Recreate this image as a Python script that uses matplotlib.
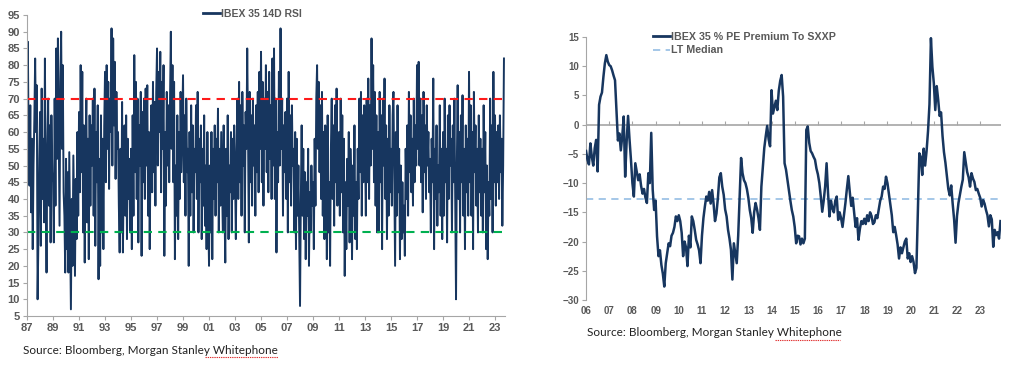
import numpy as np
import matplotlib
matplotlib.use("Agg")
import matplotlib.pyplot as plt
from matplotlib.lines import Line2D

# ---- IBEX 35 14D RSI (16 Werte pro Jahr, ab 1987) ----
rsi_start = 1987.0
rsi_per_year = 16
rsi_values = [
    62, 87, 55, 44, 68, 36, 58, 25, 50, 64, 82, 60, 74, 10, 28, 52,   # 87
    66, 26, 73, 40, 58, 33, 82, 45, 18, 55, 70, 38, 62, 27, 65, 48,   # 88
    45, 27, 70, 38, 85, 52, 88, 60, 32, 75, 90, 55, 80, 42, 35, 18,   # 89
    52, 25, 48, 18, 54, 30, 7, 40, 20, 53, 35, 17, 46, 28, 60, 35,    # 90
    66, 42, 80, 48, 78, 30, 62, 21, 55, 70, 33, 58, 22, 65, 38, 62,   # 91
    50, 70, 35, 73, 26, 60, 45, 68, 16, 52, 20, 65, 30, 58, 25, 62,   # 92
    78, 45, 80, 55, 75, 43, 70, 60, 91, 50, 88, 62, 81, 46, 72, 55,   # 93
    60, 38, 24, 55, 30, 69, 24, 48, 62, 35, 65, 28, 58, 40, 52, 30,   # 94
    55, 25, 65, 35, 83, 48, 75, 40, 70, 27, 62, 50, 72, 23, 66, 45,   # 95
    70, 40, 73, 50, 74, 35, 60, 25, 55, 68, 42, 75, 48, 69, 38, 72,   # 96
    85, 50, 78, 60, 84, 42, 75, 55, 80, 23, 60, 38, 72, 50, 68, 45,   # 97
    70, 90, 55, 80, 45, 75, 22, 50, 35, 65, 28, 60, 40, 72, 48, 62,   # 98
    77, 45, 65, 35, 70, 48, 55, 20, 60, 35, 68, 42, 62, 30, 55, 48,   # 99
    68, 40, 72, 30, 58, 45, 62, 28, 55, 38, 65, 32, 50, 25, 60, 35,   # 00
    20, 50, 30, 60, 22, 55, 40, 62, 35, 58, 45, 67, 30, 55, 38, 60,   # 01
    45, 30, 62, 38, 21, 55, 35, 65, 28, 50, 42, 60, 30, 58, 40, 62,   # 02
    48, 28, 55, 70, 40, 75, 45, 68, 35, 72, 50, 62, 30, 66, 55, 85,   # 03
    60, 27, 72, 45, 65, 38, 70, 50, 62, 35, 68, 48, 72, 42, 78, 55,   # 04
    84, 45, 75, 38, 70, 55, 80, 48, 72, 42, 78, 52, 68, 40, 82, 50,   # 05
    85, 40, 70, 24, 60, 45, 78, 50, 91, 55, 70, 35, 62, 48, 66, 40,   # 06
    70, 30, 78, 45, 65, 38, 68, 50, 55, 30, 60, 25, 58, 35, 50, 28,   # 07
    8, 40, 62, 35, 55, 28, 48, 22, 45, 35, 55, 20, 42, 30, 50, 38,    # 08
    45, 25, 58, 38, 70, 80, 55, 75, 48, 68, 40, 72, 35, 60, 28, 62,   # 09
    50, 22, 65, 30, 45, 20, 55, 70, 40, 62, 32, 68, 45, 73, 38, 58,   # 10
    60, 35, 70, 42, 65, 30, 58, 17, 45, 25, 52, 38, 60, 27, 55, 45,   # 11
    22, 50, 35, 62, 28, 45, 25, 55, 40, 70, 48, 72, 35, 65, 45, 68,   # 12
    55, 35, 70, 45, 76, 40, 68, 50, 88, 55, 80, 45, 72, 38, 65, 30,   # 13
    60, 30, 72, 45, 65, 25, 70, 50, 76, 40, 62, 28, 58, 35, 68, 42,   # 14
    55, 38, 65, 72, 45, 20, 60, 35, 68, 42, 55, 22, 50, 28, 45, 30,   # 15
    38, 23, 55, 40, 62, 35, 72, 48, 65, 42, 58, 38, 70, 45, 62, 50,   # 16
    80, 55, 81, 50, 70, 45, 65, 36, 72, 48, 62, 40, 68, 50, 60, 42,   # 17
    52, 30, 58, 45, 76, 25, 55, 40, 62, 32, 50, 42, 68, 35, 55, 28,   # 18
    60, 35, 70, 45, 55, 27, 65, 40, 68, 50, 58, 30, 62, 45, 70, 38,   # 19
    10, 50, 74, 40, 60, 30, 65, 45, 71, 35, 55, 25, 62, 42, 58, 35,   # 20
    78, 45, 68, 35, 60, 25, 72, 48, 62, 38, 55, 30, 65, 42, 58, 35,   # 21
    55, 30, 68, 42, 60, 25, 50, 22, 45, 35, 70, 40, 62, 30, 78, 45,   # 22
    65, 38, 60, 45, 62, 40, 65, 48, 58, 32, 50, 82,                   # 23
]
rsi_tick_years = list(range(1987, 2024, 2))
rsi_tick_labels = [f"{y % 100:02d}" for y in rsi_tick_years]
rsi_overbought = 70
rsi_oversold = 30

# ---- IBEX 35 % PE Premium To SXXP (16 Werte pro Jahr, ab 2006) ----
pe_start = 2006.0
pe_per_year = 16
pe_values = [
    -4.5, -6.0, -6.8, -3.2, -5.5, -7.0, -4.0, -2.6, -8.0, 3.4, 4.8, 5.5, 8.2, 10.5, 11.9, 10.8,           # 06
    10.2, 10.0, 9.3, 8.4, 7.6, 2.5, -2.7, -1.5, -4.4, -2.0, 1.4, -8.9, -3.0, 1.5, -2.5, -6.0,             # 07
    -10.0, -12.3, -6.6, -8.0, -9.5, -8.5, -10.5, -11.8, -11.0, -12.5, -13.4, -8.3, -10.0, -1.4, -11.1, -14.6,  # 08
    -13.0, -19.1, -22.5, -21.5, -24.0, -25.5, -27.7, -23.7, -22.0, -20.3, -20.8, -19.0, -18.5, -17.5, -15.7, -16.5,  # 09
    -15.5, -16.5, -18.5, -22.5, -20.0, -21.0, -24.2, -19.0, -21.0, -15.7, -16.5, -18.0, -19.7, -20.5, -21.5, -23.7,  # 10
    -19.0, -16.0, -14.0, -12.3, -13.0, -11.5, -13.5, -11.2, -13.5, -16.5, -15.2, -12.5, -9.0, -8.3, -10.6, -12.0,  # 11
    -14.5, -15.7, -18.0, -19.5, -21.4, -26.5, -20.3, -22.0, -23.7, -19.0, -12.3, -5.7, -8.3, -9.5, -10.0, -11.0,  # 12
    -12.5, -14.6, -16.0, -18.5, -15.0, -13.4, -14.5, -16.0, -18.0, -10.6, -7.2, -4.0, -2.0, -0.2, -2.5, -3.7,  # 13
    5.9, 1.9, 3.0, 4.1, 2.5, 5.8, 7.5, 8.5, 4.8, -6.6, -7.7, -9.5, -11.2, -13.0, -14.6, -15.7,             # 14
    -17.5, -20.3, -19.0, -19.1, -20.5, -19.5, -20.3, -19.5, -0.9, -0.3, -3.1, -4.5, -4.9, -5.5, -6.0, -7.5,  # 15
    -8.5, -10.0, -12.3, -14.9, -13.0, -10.6, -6.6, -11.7, -15.7, -13.0, -14.3, -15.0, -13.0, -12.3, -16.3, -15.0,  # 16
    -16.0, -17.5, -15.5, -13.4, -11.0, -8.8, -11.5, -13.9, -12.5, -15.0, -17.5, -16.0, -19.7, -17.8, -16.5, -17.0,  # 17
    -16.1, -17.0, -15.5, -16.5, -15.0, -15.6, -17.0, -16.7, -15.5, -16.0, -14.5, -13.0, -12.3, -10.6, -11.0, -8.9,  # 18
    -10.0, -11.8, -13.5, -15.5, -18.4, -17.5, -18.9, -20.5, -22.9, -21.0, -22.0, -21.0, -20.0, -19.5, -22.9, -22.0,  # 19
    -23.5, -22.5, -23.5, -25.4, -24.5, -15.0, -4.9, -5.5, -8.6, -4.1, -7.0, -4.5, -1.1, 3.5, 14.8, 9.9,    # 20
    7.1, 2.5, 6.6, 4.3, 1.5, 2.1, -1.9, -4.7, -6.5, -8.7, -11.0, -12.1, -10.4, -13.5, -16.2, -20.2,       # 21
    -15.6, -13.4, -12.0, -10.6, -9.4, -4.7, -6.4, -8.1, -9.0, -10.6, -8.3, -9.2, -9.8, -11.2, -11.0, -11.8,  # 22
    -12.5, -14.0, -12.9, -13.5, -14.6, -15.5, -17.4, -15.5, -16.2, -20.9, -18.0, -18.9, -18.4, -19.5, -16.5,  # 23
]
pe_lt_median = -12.7
pe_tick_years = list(range(2006, 2024))
pe_tick_labels = [f"{y % 100:02d}" for y in pe_tick_years]

NAVY = "#17365F"
GREY_TXT = "#595959"
AXIS_GREY = "#A6A6A6"
FONT = "Liberation Sans"
SOURCE = "Source: Bloomberg, Morgan Stanley Whitephone"

fig = plt.figure(figsize=(10.24, 3.65), dpi=100)
fig.patch.set_facecolor("white")

# ---------------- linkes Chart: RSI ----------------
ax1 = fig.add_axes([0.0264, 0.1342, 0.4668, 0.8247])
rsi_x = rsi_start + np.arange(len(rsi_values)) / rsi_per_year
ax1.plot(rsi_x, rsi_values, color=NAVY, lw=1.4, label="IBEX 35 14D RSI")
ax1.axhline(rsi_overbought, color="#FF1A1A", lw=1.5, ls=(0, (4, 3)))
ax1.axhline(rsi_oversold, color="#00B050", lw=1.5, ls=(0, (4, 3)))
ax1.set_xlim(1987.0, 2023.77)
ax1.set_ylim(5, 95)
ax1.set_yticks(range(5, 96, 5))
ax1.set_xticks(rsi_tick_years)
ax1.set_xticklabels(rsi_tick_labels)
for s in ("top", "right"):
    ax1.spines[s].set_visible(False)
for s in ("left", "bottom"):
    ax1.spines[s].set_color(AXIS_GREY)
    ax1.spines[s].set_linewidth(0.8)
ax1.tick_params(axis="both", colors=AXIS_GREY, length=3, width=0.8, pad=2)
for lab in ax1.get_xticklabels() + ax1.get_yticklabels():
    lab.set_color(GREY_TXT)
    lab.set_fontfamily(FONT)
    lab.set_fontweight("bold")
    lab.set_fontsize(8)
leg1 = ax1.legend(loc="upper left", bbox_to_anchor=(0.36, 1.035), frameon=False,
                  handlelength=1.6, handletextpad=0.1, borderaxespad=0,
                  prop={"family": FONT, "weight": "bold", "size": 7.5})
for t in leg1.get_texts():
    t.set_color(GREY_TXT)
for h in leg1.get_lines():
    h.set_linewidth(2.0)

# ---------------- rechtes Chart: PE Premium ----------------
ax2 = fig.add_axes([0.5723, 0.1781, 0.4053, 0.7205])
ax2.axhline(0, color=AXIS_GREY, lw=1.2, zorder=1)
pe_x = pe_start + np.arange(len(pe_values)) / pe_per_year
ax2.plot(pe_x, pe_values, color=NAVY, lw=1.8, label="IBEX 35 % PE Premium To SXXP", zorder=3)
ax2.axhline(pe_lt_median, color="#9DC3E6", lw=1.3, ls=(0, (4, 3)), label="LT Median", zorder=2)
ax2.set_xlim(2006.0, 2023.9)
ax2.set_ylim(-30, 15)
ax2.set_yticks(range(-30, 16, 5))
ax2.set_xticks(pe_tick_years)
ax2.set_xticklabels(pe_tick_labels)
for s in ("top", "right", "bottom"):
    ax2.spines[s].set_visible(False)
ax2.spines["left"].set_color(AXIS_GREY)
ax2.spines["left"].set_linewidth(0.8)
ax2.tick_params(axis="y", colors=AXIS_GREY, length=3, width=0.8, pad=2)
ax2.tick_params(axis="x", length=0, pad=4)
for lab in ax2.get_xticklabels() + ax2.get_yticklabels():
    lab.set_color(GREY_TXT)
    lab.set_fontfamily(FONT)
    lab.set_fontweight("bold")
    lab.set_fontsize(7)

# Jahres-Ticks an der Nulllinie
zero_frac = (0 - (-30)) / (15 - (-30))
sec = ax2.secondary_xaxis(zero_frac)
sec.set_xticks(pe_tick_years)
sec.set_xticklabels([])
for sp in sec.spines.values():
    sp.set_visible(False)
sec.tick_params(axis="x", colors=AXIS_GREY, length=3, width=0.8, direction="out")

leg2 = ax2.legend(loc="upper left", bbox_to_anchor=(0.15, 1.035), frameon=False,
                  handlelength=1.6, handletextpad=0.1, borderaxespad=0, labelspacing=0.3,
                  prop={"family": FONT, "weight": "bold", "size": 7.7})
for t in leg2.get_texts():
    t.set_color(GREY_TXT)
leg2.get_lines()[0].set_linewidth(2.0)

# ---------------- Quellen ----------------
fig.text(0.0225, 1 - 350 / 365, SOURCE, fontsize=8.5, family="Lato", color="#222222", va="center")
fig.text(0.573, 1 - 333 / 365, SOURCE, fontsize=8.5, family="Lato", color="#222222", va="center")
# rote Rechtschreib-Unterstreichung unter "Whitephone"
for x0, x1, yy in ((205, 278, 357), (775, 840, 340)):
    fig.add_artist(Line2D([x0 / 1024, x1 / 1024], [1 - yy / 365] * 2, color="#E03030",
                          lw=0.8, ls=(0, (1.2, 0.8)), transform=fig.transFigure))

fig.savefig("out.png", dpi=100, facecolor="white")
